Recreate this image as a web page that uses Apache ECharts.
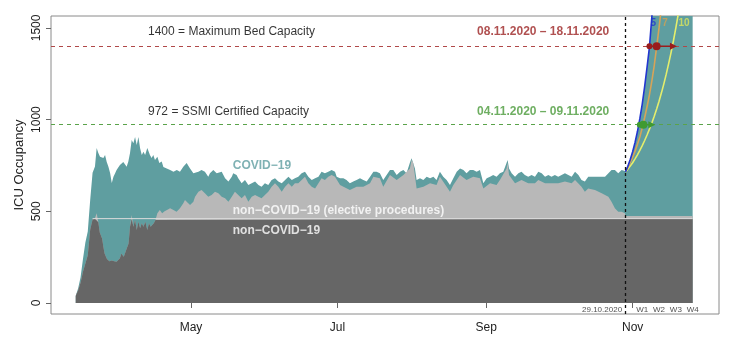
<!DOCTYPE html>
<html><head><meta charset="utf-8">
<script src="https://cdn.jsdelivr.net/npm/echarts@6/dist/echarts.min.js"></script>
<style>html,body{margin:0;padding:0;background:#fff}#c{width:740px;height:357px}</style>
</head><body><div id="c"></div>
<script>
// ---- axis ticks ----
const monthTicks = [121, 182, 244, 305];           // day of year (Jan 1 = 0), 2020
const monthLabels = ['May', 'Jul', 'Sep', 'Nov'];
const yTicks = [0, 500, 1000, 1500];
const weekDays = [309, 316, 323, 330];
const weekLabels = ['W1', 'W2', 'W3', 'W4'];
const cutoffDay = 302;                              // 29.10.2020
const cutoffLabel = '29.10.2020';
const maxCapacity = 1400;
const certifiedCapacity = 972;
const nonCovidCap = 460;

// ---- total occupancy (top of COVID-19 area) ----
const totalDays = [
73,74,75,76,77,78,79,80,81,81.7,
82.4,83.1,83.8,84.5,85.2,85.9,86.6,87.3,88,88.7,
89.4,90,91.4,92.8,93.5,94.2,94.9,95.6,96.3,97,
97.7,98.4,99.1,99.8,100.5,101.2,101.9,102.8,103.9,104.6,
105.3,106,107,107.8,108.8,109.5,110.9,112.3,113.7,115.1,
116.4,117.8,119.2,120.6,122,124.1,125.4,126.8,128.2,128.9,
130.3,131.7,132.4,133.8,135.2,136.6,138,138.6,140,140.7,
142.1,143.5,144.9,146.3,147.7,149.1,150.4,151.8,153.2,154.6,
156,157.4,158.8,160.2,161.6,163,164.3,165.7,167.1,168.5,
169.9,171.3,172.7,174.1,175.4,176.8,178.2,179.6,181,181.7,
183.1,184.5,185.8,187.2,188.6,190,191.4,192.8,194.2,195.6,
197,198.3,199.7,201.1,202.5,203.9,205.3,206.7,208.1,209.5,
210.8,212.2,212.9,213.6,214.3,215,216.4,217.8,219.2,220.6,
222,223.3,224.7,226.1,227.5,228.9,230.3,231.7,233.1,234.5,
235.8,237.2,238.6,240,241.4,242.1,242.8,244.2,245.6,246.9,
248.3,249.7,251.1,252.5,252.9,253.5,254.6,256,257.4,258.7,
260.1,261.5,262.9,264.3,265.7,267.1,268.5,269.9,271.2,272.6,
274,275.4,276.8,278.2,279.6,281,282.4,283.7,285.1,286.5,
287.9,289.3,290.7,292.1,293.5,294.9,296.2,296.9,297.6,299,
300.4,301.8,302,303,304,305,306,307,308,309,
310,311,312,313,314,330];
const totalBeds = [
40,80,140,240,330,390,560,710,745,845,
818,798,807,790,807,769,743,709,654,689,
707,725,752,769,762,743,771,818,889,871,
905,861,905,844,807,825,807,845,807,790,
807,780,798,763,771,742,734,725,716,725,
716,743,763,734,707,716,725,716,689,707,
725,707,698,716,680,662,689,707,698,680,
653,671,643,653,662,643,634,653,643,671,
680,662,653,671,689,671,680,689,707,716,
689,671,680,689,716,707,716,725,716,689,
680,680,671,653,662,671,680,671,662,689,
716,716,707,671,698,725,725,698,716,725,
707,765,789,780,734,671,680,671,689,680,
689,671,716,689,671,643,680,716,734,725,
707,725,725,716,725,716,653,680,689,698,
689,707,716,765,780,734,707,689,707,716,
698,689,698,689,716,707,689,698,689,698,
689,698,707,698,689,716,698,671,662,689,
689,689,689,689,689,707,725,734,725,707,
725,720,715,745,782,825,875,935,1005,1085,
1180,1285,1395,1560,1740,1800];

// ---- non-COVID-19 incl. elective procedures (top of light grey area) ----
const nonCovidDays = [
73,74,75,76,77,78,79,80,81,81.7,
82.4,83,84,84.5,85,86,87,88,89,90,
91.4,92,93,94,95,95.6,96.3,97,97.7,98.4,
99.1,99.8,100.5,101.2,102,102.8,103.5,104.2,104.9,105.5,
106.2,107,108,109,110,111,112.3,113.7,115,116.4,
117.8,118.5,119.2,120.6,122,122.7,124.1,125.4,126.8,128.2,
129.6,131,132.4,133.8,135.2,136.6,138,139.3,140.7,142.1,
143.5,144.9,146.3,147.7,149.1,150.4,151.8,153.2,154.6,156,
157.4,158.8,160.2,161.6,163,164.3,165.7,167.1,168.5,169.9,
171.3,172.7,174.1,175.4,176.8,178.2,179.6,181,183.1,187.2,
190,192.8,195.6,197,199.7,201.1,203.9,206.7,209.5,212.2,
212.9,213.6,215,217.8,220.6,223.3,224.7,227.5,228.9,230.3,
233.1,235.8,238.6,241.4,242.1,242.8,245.6,248.3,249.7,252.5,
252.9,253.5,256,258.7,261.5,264.3,265.7,268.5,271.2,274,
276.8,279.6,281,283.7,285.1,286.5,289.3,292.1,294.9,296.2,
297.6,299,300.4,301.8,302,330];
const nonCovidBeds = [
40,70,110,170,215,260,400,455,462,490,
440,385,350,307,270,240,228,232,228,225,
244,270,252,289,325,416,480,416,453,398,
443,407,435,416,443,398,435,416,425,435,
453,489,507,489,500,507,516,507,498,516,
544,562,553,534,552,580,607,616,598,580,
589,607,598,580,571,552,580,607,589,571,
589,552,580,589,580,571,589,607,634,653,
634,607,634,653,634,653,653,671,689,653,
634,625,653,680,671,689,698,689,643,616,
634,634,653,689,680,634,698,671,698,734,
780,765,625,634,653,643,689,634,607,643,
698,671,689,680,671,625,653,643,671,734,
765,698,653,671,653,653,671,653,653,653,
662,653,671,634,607,625,616,598,580,552,
516,498,498,489,475,475];

// ---- non-COVID-19 without elective procedures (dark grey) ----
const baseDays = [
73,74,75,76,77,78,79,80,81,81.7,
82.4,83,84,84.5,85,86,87,88,89,90,
91.4,92,93,94,95,95.6,96.3,97,97.7,98.4,
99.1,99.8,100.5,101.2,102,102.8,103.5,104.2,104.9,105.5,
106.2,107,330];
const baseBeds = [
40,70,110,170,215,260,400,455,460,460,
440,385,350,307,270,240,228,232,228,225,
244,270,252,289,325,416,460,416,453,398,
443,407,435,416,443,398,435,416,425,435,
453,460,460];

// ---- projections from 29.10.2020 (doubling time 5, 7, 10 days) ----
const projDays = [302,303,304,305,306,307,308,309,310,311,312,313,314,315,316,317,318,319,320,321,322,323,324];
const proj5 = [715,745,782,825,875,935,1005,1085,1180,1285,1395,1560,1740];
const proj7 = [715,740,766,795,828,865,905,955,1010,1070,1135,1210,1295,1395,1500,1615];
const proj10 = [715,730,747,765,786,808,832,858,886,916,948,982,1018,1058,1100,1146,1195,1248,1305,1365,1430,1500,1575];

// crossing days of the capacity lines
const crossMax = [312, 315, 322];
const crossCert = [308, 309.5, 313];

const FONT = '"Liberation Sans", Arial, Helvetica, sans-serif';
const TEAL = '#5f9ea0', LIGHT = '#b8b8b8', DARK = '#666666';
const RED = '#9c2424', GREEN = '#4a9a3a';
const BLUE = '#2236d0', ORANGE = '#d6a458', YELLOW = '#e4ee6c';

const zip = (d, v) => v.map((y, i) => [d[i], y]);

function area(days, vals, color) {
  return { type: 'line', data: zip(days, vals), symbol: 'none', silent: true,
    lineStyle: { width: 0 }, itemStyle: { color }, areaStyle: { color, opacity: 1 } };
}
function curve(vals, color) {
  return { type: 'line', data: zip(projDays, vals), symbol: 'none', silent: true, z: 4,
    lineStyle: { width: 1.6, color }, itemStyle: { color } };
}
function txt(x, y, text, opt) {
  return { value: [x, y], label: Object.assign({ show: true, formatter: text, position: 'right', distance: 0,
    fontFamily: FONT, fontSize: 12, color: '#000' }, opt) };
}
function markers(days, level, color) {
  return [
    { type: 'line', data: [[days[0], level], [days[2], level]], symbol: 'none', silent: true, z: 6,
      lineStyle: { width: 1.5, color } },
    { type: 'scatter', silent: true, z: 7, itemStyle: { color, opacity: 1 },
      data: [
        { value: [days[0], level], symbol: 'circle', symbolSize: 6 },
        { value: [days[1], level], symbol: 'circle', symbolSize: 8 },
        { value: [days[2], level], symbol: 'triangle', symbolSize: 7, symbolRotate: -90 }
      ] }
  ];
}

const chart = echarts.init(document.getElementById('c'));
chart.setOption({
  animation: false,
  textStyle: { fontFamily: FONT },
  grid: { left: 51, right: 21, top: 16, bottom: 43, show: true, borderColor: '#8a8a8a', borderWidth: 1, backgroundColor: 'transparent' },
  xAxis: {
    type: 'value', min: 62.68, max: 340.98,
    axisLine: { show: false }, splitLine: { show: false },
    axisTick: { show: true, customValues: monthTicks, length: 5, lineStyle: { color: '#666' } },
    axisLabel: { customValues: monthTicks, formatter: v => monthLabels[monthTicks.indexOf(v)],
      fontSize: 12, color: '#222', margin: 8, fontFamily: FONT }
  },
  yAxis: {
    type: 'value', min: -60, max: 1565,
    axisLine: { show: false }, splitLine: { show: false },
    axisTick: { show: true, customValues: yTicks, length: 5, lineStyle: { color: '#666' } },
    axisLabel: { customValues: yTicks, formatter: v => String(v), rotate: 90, fontSize: 12, color: '#222', margin: 8, fontFamily: FONT },
    name: 'ICU Occupancy', nameLocation: 'middle', nameRotate: 90, nameGap: 25, nameMoveOverlap: false,
    nameTextStyle: { fontSize: 13, color: '#222', fontFamily: FONT }
  },
  series: [
    area(totalDays, totalBeds, TEAL),
    area(nonCovidDays, nonCovidBeds, LIGHT),
    area(baseDays, baseBeds, DARK),
    { type: 'line', data: [[80, nonCovidCap], [330, nonCovidCap]], symbol: 'none', silent: true, z: 3,
      lineStyle: { width: 1, color: '#dcdcdc' } },
    curve(proj10, YELLOW),
    curve(proj7, ORANGE),
    curve(proj5, BLUE),
    { type: 'line', data: [], silent: true, z: 5,
      markLine: { silent: true, symbol: ['none', 'none'], label: { show: false },
        data: [
          { yAxis: maxCapacity, lineStyle: { color: '#b04848', type: [4, 4], width: 1.2 } },
          { yAxis: certifiedCapacity, lineStyle: { color: '#5aa34a', type: [4, 4], width: 1.2 } },
          { xAxis: cutoffDay, lineStyle: { color: '#111', type: [3, 3], width: 1.3 } }
        ] } },
    ...markers(crossMax, maxCapacity, '#9a1c1c'),
    ...markers(crossCert, certifiedCapacity, '#3f9a30'),
    { type: 'scatter', symbolSize: 0, silent: true, z: 10, zlevel: 1,
      data: [
        txt(103.1, 1478, '1400 = Maximum Bed Capacity'),
        txt(240.2, 1478, '08.11.2020 \u2013 18.11.2020', { fontWeight: 'bold', color: RED }),
        txt(103.1, 1041, '972 = SSMI Certified Capacity'),
        txt(240.2, 1041, '04.11.2020 \u2013 09.11.2020', { fontWeight: 'bold', color: GREEN }),
        txt(138.4, 749, 'COVID\u221219', { fontWeight: 'bold', color: TEAL }),
        txt(138.4, 503, 'non\u2212COVID\u221219 (elective procedures)', { fontWeight: 'bold', color: '#ffffff' }),
        txt(138.4, 393, 'non\u2212COVID\u221219', { fontWeight: 'bold', color: '#ffffff' }),
        txt(300.6, -38, cutoffLabel, { position: 'left', fontSize: 8, color: '#222' }),
        ...weekDays.map((d, i) => txt(d, -38, weekLabels[i], { position: 'inside', fontSize: 8, color: '#222' })),
        txt(313.6, 1526, '5', { position: 'inside', fontWeight: 'bold', fontSize: 10, color: BLUE }),
        txt(318.5, 1526, '7', { position: 'inside', fontWeight: 'bold', fontSize: 10, color: '#d4a050' }),
        txt(326.4, 1526, '10', { position: 'inside', fontWeight: 'bold', fontSize: 10, color: '#dde65a' })
      ] }
  ]
});
</script></body></html>
